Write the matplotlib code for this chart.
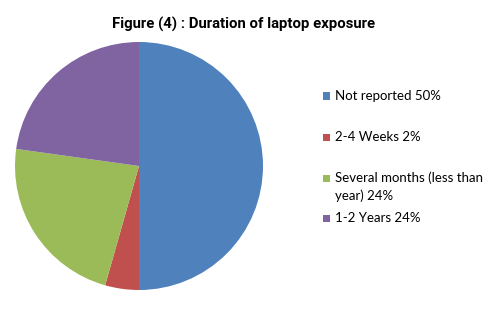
import matplotlib
matplotlib.use("Agg")
import matplotlib.pyplot as plt
from matplotlib.patches import Rectangle

title = "Figure (4) : Duration of laptop exposure"
labels = ["Not reported 50%", "2-4 Weeks 2%", "Several months (less than\nyear) 24%", "1-2 Years 24%"]
# slice sizes as drawn in the picture
values = [50, 4.4, 22.8, 22.8]
colors = ["#4F81BD", "#C0504D", "#9BBB59", "#8064A2"]

W, H = 500, 313
fig = plt.figure(figsize=(W / 100, H / 100), dpi=100)
fig.patch.set_facecolor("white")

cx, cy, r = 139, 166, 124
ax = fig.add_axes([(cx - r) / W, (H - cy - r) / H, 2 * r / W, 2 * r / H])
ax.pie(values, colors=colors, startangle=90, counterclock=False,
       wedgeprops=dict(linewidth=0))
ax.set_aspect("equal")
ax.set_xlim(-1, 1)
ax.set_ylim(-1, 1)

fig.text(243.5 / W, 1 - 28.5 / H, title, ha="center", va="baseline",
         fontsize=10.7, fontweight="bold", family="Roboto")

row_y = [96, 137, 178, 218]
for lab, col, y in zip(labels, colors, row_y):
    fig.patches.append(Rectangle((322.5 / W, 1 - (y + 4) / H), 7.5 / W, 7.5 / H,
                                 transform=fig.transFigure, facecolor=col,
                                 edgecolor="none"))
    if "\n" in lab:
        fig.text(335 / W, 1 - (y - 7) / H, lab, ha="left", va="top",
                 fontsize=9.5, family="Lato", color="#000000", linespacing=1.6)
    else:
        fig.text(335 / W, 1 - y / H, lab, ha="left", va="center",
                 fontsize=9.5, family="Lato", color="#000000")

fig.savefig("out.png", dpi=100)
